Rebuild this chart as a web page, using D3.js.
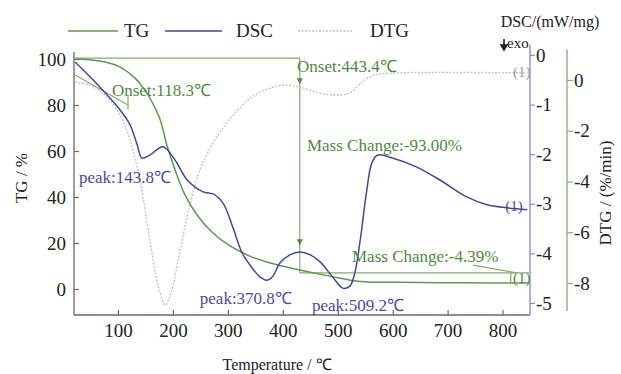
<!DOCTYPE html>
<html>
<head>
<meta charset="utf-8">
<script src="https://cdn.jsdelivr.net/npm/d3@7"></script>
<style>
  body { margin: 0; background: #fff; }
  svg { display: block; }
  text { font-family: "Liberation Serif", "Times New Roman", serif; }
</style>
</head>
<body>
<svg id="chart" width="621" height="374"></svg>
<script>
// ---- data (temperature in °C, values in axis units) ----
const tempTicks = [100, 200, 300, 400, 500, 600, 700, 800];
const tgTicks = [0, 20, 40, 60, 80, 100];
const dscTicks = [0, -1, -2, -3, -4, -5];
const dtgTicks = [0, -2, -4, -6, -8];

// TG / %
const tgData = [
  [22, 100], [67, 99.1], [104, 96.5], [131, 91.7], [149, 86.5], [162, 81.3],
  [177, 73.5], [189, 62.6], [204, 51.7], [222, 40.9], [244, 32.2], [271, 24.8],
  [304, 18.7], [340, 14.3], [377, 11.3], [431, 8.3], [486, 5.6], [541, 3.3],
  [613, 2.9], [730, 2.7], [848, 2.6]
];

// DSC / (mW/mg)
const dscData = [
  [22, -0.14], [58, -0.54], [104, -1.11], [122, -1.41], [135, -1.81], [143.8, -2.08],
  [158, -2.02], [182, -1.85], [204, -2.12], [226, -2.52], [255, -2.76], [273, -2.8],
  [291, -2.98], [309, -3.47], [326, -3.99], [340, -4.23], [359, -4.48], [371, -4.54],
  [382, -4.46], [395, -4.19], [413, -4.03], [431, -3.97], [450, -4.03], [468, -4.17],
  [491, -4.48], [509.2, -4.7], [522, -4.66], [531, -4.4], [541, -3.73], [553, -2.72],
  [562, -2.18], [572, -2.02], [601, -2.08], [644, -2.26], [686, -2.52], [735, -2.86],
  [772, -3.02], [808, -3.08], [845, -3.12]
];

// DTG / (%/min)
const dtgData = [
  [22, -0.08], [49, -0.2], [76, -0.59], [104, -1.38], [122, -2.36], [140, -3.94],
  [158, -6.31], [173, -8.08], [186, -8.87], [198, -8.28], [213, -6.7], [231, -4.93],
  [249, -3.55], [271, -2.56], [295, -1.77], [322, -1.1], [349, -0.59], [377, -0.32],
  [404, -0.2], [431, -0.28], [459, -0.47], [491, -0.59], [522, -0.51], [544, -0.08],
  [568, 0.2], [613, 0.28], [846, 0.28]
];

// annotation guide lines (TG units)
const tgGuides = [
  [[22, 100.4], [431, 100.4]],
  [[431, 100.4], [431, 7.0]],
  [[431, 7.0], [848, 7.0]],
  [[22, 93], [118.3, 80]],
  [[118.3, 84.5], [118.3, 78]],
  [[815, 7.0], [815, 2.6]],
  [[746, 10.4], [826, 7.0]]
];
const tgArrows = [[431, 19], [431, 89]];

// text annotations: [text, axis, temperature, value]
const annotations = [
  ["Onset:118.3℃", "tg", 89, 83.9],
  ["Onset:443.4℃", "tg", 426, 94.3],
  ["Mass Change:-93.00%", "tg", 444, 60],
  ["Mass Change:-4.39%", "tg", 526, 11.7],
  ["peak:143.8℃", "dsc", 29, -2.58],
  ["peak:370.8℃", "dsc", 249, -5.02],
  ["peak:509.2℃", "dsc", 453, -5.16]
];
const curveMarks = [
  ["(1)", "dtg", 819, 0.12],
  ["(1)", "dsc", 805, -3.15],
  ["(1)", "tg", 819, 2.6]
];

const legendItems = ["TG", "DSC", "DTG"];

// ---- styles ----
const colors = {TG: "#5c9a4b", DSC: "#46469c", DTG: "#c4c4c4", note: "#4f8a40", noteLine: "#7fb06c"};

const svg = d3.select("#chart");

const x = d3.scaleLinear().domain([20, 850]).range([74, 530]);
const yTG = d3.scaleLinear().domain([0, 100]).range([289, 59]);
const yDSC = d3.scaleLinear().domain([0, -5]).range([55, 303]);
const yDTG = d3.scaleLinear().domain([0, -8]).range([80, 283]);
const yOf = {tg: yTG, dsc: yDSC, dtg: yDTG};

const bottomY = yTG(-11.3);
const topY = yTG(103);

// frame lines
svg.append("line") // left
    .attr("x1", x(20)).attr("x2", x(20))
    .attr("y1", topY).attr("y2", bottomY)
    .attr("stroke", "#6a6a6a").attr("stroke-width", 1.3);
svg.append("line") // bottom
    .attr("x1", x(20)).attr("x2", x(850))
    .attr("y1", bottomY).attr("y2", bottomY)
    .attr("stroke", "#6a6a6a").attr("stroke-width", 1.3);
svg.append("line") // DSC right axis
    .attr("x1", x(850)).attr("x2", x(850))
    .attr("y1", yDSC(0.2)).attr("y2", bottomY)
    .attr("stroke", "#9b9bd2").attr("stroke-width", 1.6);
svg.append("line") // DTG axis
    .attr("x1", 567).attr("x2", 567)
    .attr("y1", yDTG(1.2)).attr("y2", yDTG(-9.1))
    .attr("stroke", "#9db598").attr("stroke-width", 1.6);

function styleAxis(g, color) {
  g.select(".domain").remove();
  g.selectAll(".tick line").attr("stroke", color).attr("stroke-width", 1.2);
  g.selectAll(".tick text")
      .attr("fill", "#222")
      .style("font-size", "19px")
      .style("font-family", "'Liberation Serif', serif");
}

svg.append("g")
    .attr("transform", "translate(" + x(20) + ",0)")
    .call(d3.axisLeft(yTG).tickValues(tgTicks).tickSizeInner(-5).tickSizeOuter(0).tickPadding(8))
    .call(g => styleAxis(g, "#6a6a6a"));

svg.append("g")
    .attr("transform", "translate(0," + bottomY + ")")
    .call(d3.axisBottom(x).tickValues(tempTicks).tickSizeInner(-5).tickSizeOuter(0).tickPadding(9))
    .call(g => styleAxis(g, "#6a6a6a"));

svg.append("g")
    .attr("transform", "translate(" + x(850) + ",0)")
    .call(d3.axisRight(yDSC).tickValues(dscTicks).tickSize(5).tickPadding(1).tickFormat(d => String(d)))
    .call(g => styleAxis(g, "#8c8cc8"));

svg.append("g")
    .attr("transform", "translate(567,0)")
    .call(d3.axisRight(yDTG).tickValues(dtgTicks).tickSize(6).tickPadding(1).tickFormat(d => String(d)))
    .call(g => styleAxis(g, "#8fa98a"));

// guide lines
const guideLine = d3.line().x(d => x(d[0])).y(d => yTG(d[1]));
svg.append("g").selectAll("path")
  .data(tgGuides)
  .join("path")
    .attr("d", guideLine)
    .attr("fill", "none")
    .attr("stroke", colors.noteLine)
    .attr("stroke-width", 1.2);

svg.append("g").selectAll("path")
  .data(tgArrows)
  .join("path")
    .attr("d", d => {
      const px = x(d[0]), py = yTG(d[1]);
      return "M" + (px - 3) + "," + (py - 6) + "L" + (px + 3) + "," + (py - 6) + "L" + px + "," + py + "Z";
    })
    .attr("fill", colors.note);

// curves
const lineOf = key => d3.line()
    .x(d => x(d[0]))
    .y(d => yOf[key](d[1]))
    .curve(d3.curveCatmullRom.alpha(0.5));

svg.append("path")
    .datum(dtgData)
    .attr("d", lineOf("dtg"))
    .attr("fill", "none")
    .attr("stroke", colors.DTG)
    .attr("stroke-width", 1.4)
    .attr("stroke-dasharray", "2,1.5");

svg.append("path")
    .datum(tgData)
    .attr("d", lineOf("tg"))
    .attr("fill", "none")
    .attr("stroke", colors.TG)
    .attr("stroke-width", 1.5);

svg.append("path")
    .datum(dscData)
    .attr("d", lineOf("dsc"))
    .attr("fill", "none")
    .attr("stroke", colors.DSC)
    .attr("stroke-width", 1.5);

// annotations
svg.append("g").selectAll("text")
  .data(annotations)
  .join("text")
    .attr("x", d => x(d[2]))
    .attr("y", d => yOf[d[1]](d[3]))
    .attr("fill", d => d[1] === "dsc" ? "#4a4aa6" : colors.note)
    .style("font-size", "17px")
    .text(d => d[0]);

svg.append("g").selectAll("text")
  .data(curveMarks)
  .join("text")
    .attr("x", d => x(d[2]))
    .attr("y", d => yOf[d[1]](d[3]))
    .attr("fill", d => d[1] === "dsc" ? "#4a4aa6" : d[1] === "dtg" ? "#8fa98a" : colors.note)
    .style("font-size", "15px")
    .text(d => d[0]);

// legend
const legendPos = {TG: [68, 118, 124], DSC: [165, 222, 236], DTG: [298, 352, 370]};
const item = svg.append("g").selectAll("g")
  .data(legendItems)
  .join("g")
    .attr("transform", "translate(0,31)");
item.append("line")
    .attr("x1", d => legendPos[d][0])
    .attr("x2", d => legendPos[d][1])
    .attr("stroke", d => colors[d])
    .attr("stroke-width", d => d === "DTG" ? 1.4 : 1.5)
    .attr("stroke-dasharray", d => d === "DTG" ? "2,1.5" : null);
item.append("text")
    .attr("x", d => legendPos[d][2])
    .attr("dy", "0.33em")
    .attr("fill", "#222")
    .style("font-size", "19px")
    .text(d => d);

// axis titles
svg.append("text")
    .attr("x", 550).attr("y", 27)
    .attr("text-anchor", "middle")
    .attr("fill", "#222")
    .style("font-size", "16px")
    .text("DSC/(mW/mg)");
svg.append("text")
    .attr("x", 507).attr("y", 48)
    .attr("fill", "#222")
    .style("font-size", "15px")
    .text("exo");
svg.append("path")
    .attr("d", "M504,39 L504,48 M501,45 L504,50 L507,45 Z")
    .attr("stroke", "#222")
    .attr("stroke-width", 1.6)
    .attr("fill", "#222");

svg.append("text")
    .attr("transform", "translate(27,178) rotate(-90)")
    .attr("text-anchor", "middle")
    .attr("fill", "#222")
    .style("font-size", "17px")
    .text("TG / %");

svg.append("text")
    .attr("transform", "translate(611,193) rotate(-90)")
    .attr("text-anchor", "middle")
    .attr("fill", "#222")
    .style("font-size", "17px")
    .text("DTG / (%/min)");

svg.append("text")
    .attr("x", 277).attr("y", 370)
    .attr("text-anchor", "middle")
    .attr("fill", "#222")
    .style("font-size", "16px")
    .text("Temperature / ℃");
</script>
</body>
</html>
